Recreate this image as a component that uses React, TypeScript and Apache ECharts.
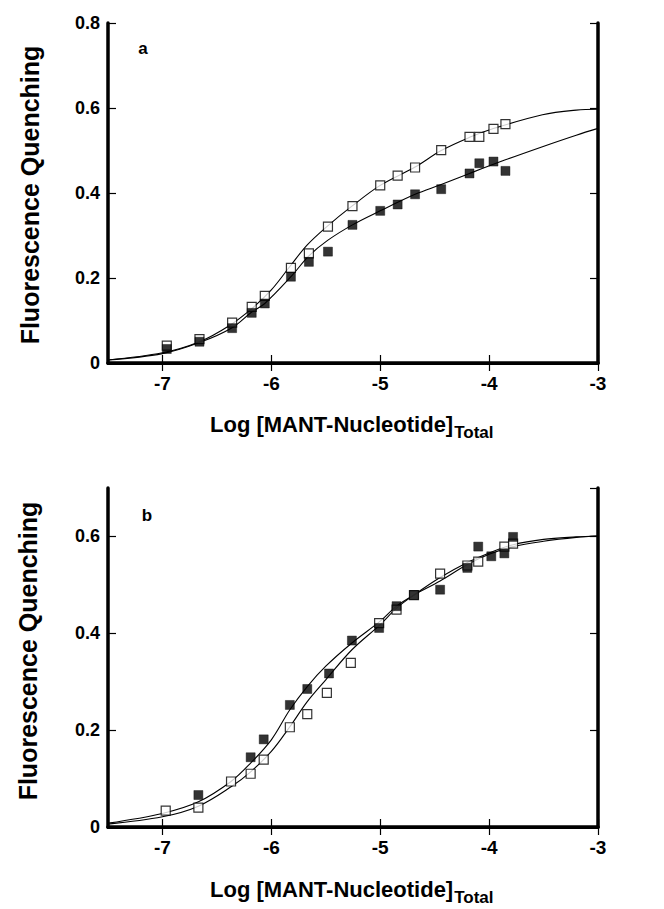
import React, { useEffect, useRef } from "react";
import * as echarts from "echarts";

// Panel a: measured points
const xA = [-6.96, -6.66, -6.36, -6.18, -6.06, -5.82, -5.655, -5.48, -5.255, -5.0, -4.84, -4.68, -4.44, -4.18, -4.09, -3.96, -3.85];
const yAOpen = [0.041, 0.056, 0.095, 0.132, 0.158, 0.224, 0.258, 0.321, 0.369, 0.418, 0.441, 0.46, 0.501, 0.532, 0.532, 0.551, 0.562];
const yAFilled = [0.033, 0.05, 0.082, 0.118, 0.14, 0.203, 0.238, 0.262, 0.325, 0.358, 0.373, 0.397, 0.409, 0.446, 0.47, 0.474, 0.452];

// Panel a: fitted curves
const xAOpenCurve = [-7.5, -7.0, -6.66, -6.38, -6.18, -6.0, -5.83, -5.67, -5.49, -5.26, -5.0, -4.68, -4.44, -4.18, -3.98, -3.51, -3.2, -3.0];
const yAOpenCurve = [0.007, 0.024, 0.05, 0.089, 0.128, 0.172, 0.227, 0.278, 0.321, 0.369, 0.418, 0.461, 0.5, 0.531, 0.55, 0.584, 0.595, 0.597];
const xAFilledCurve = [-7.5, -7.0, -6.66, -6.36, -6.18, -6.06, -5.82, -5.655, -5.48, -5.255, -5.0, -4.68, -4.44, -4.18, -3.85, -3.51, -3.2, -3.0];
const yAFilledCurve = [0.007, 0.022, 0.048, 0.083, 0.12, 0.14, 0.203, 0.252, 0.289, 0.325, 0.358, 0.397, 0.42, 0.446, 0.478, 0.509, 0.536, 0.552];

// Panel b: measured points
const xBOpen = [-6.97, -6.67, -6.37, -6.19, -6.07, -5.83, -5.67, -5.49, -5.27, -5.01, -4.85, -4.69, -4.45, -4.2, -4.1, -3.86, -3.78];
const yBOpen = [0.034, 0.04, 0.094, 0.11, 0.139, 0.206, 0.233, 0.277, 0.339, 0.421, 0.449, 0.479, 0.523, 0.54, 0.548, 0.579, 0.585];
const xBFilled = [-6.67, -6.19, -6.07, -5.83, -5.67, -5.47, -5.26, -5.01, -4.85, -4.69, -4.45, -4.2, -4.1, -3.98, -3.86, -3.78];
const yBFilled = [0.066, 0.144, 0.181, 0.252, 0.285, 0.317, 0.385, 0.411, 0.456, 0.479, 0.49, 0.535, 0.579, 0.559, 0.565, 0.599];

// Panel b: fitted curves
const xBCurve = [-7.5, -7.0, -6.67, -6.37, -6.19, -6.0, -5.83, -5.67, -5.5, -5.26, -5.0, -4.85, -4.69, -4.45, -4.2, -4.0, -3.78, -3.5, -3.2, -3.0];
const yBFilledCurve = [0.008, 0.028, 0.052, 0.094, 0.132, 0.18, 0.242, 0.29, 0.332, 0.38, 0.425, 0.456, 0.479, 0.508, 0.542, 0.563, 0.579, 0.59, 0.598, 0.601];
const yBOpenCurve = [0.006, 0.021, 0.043, 0.083, 0.114, 0.156, 0.207, 0.259, 0.304, 0.366, 0.418, 0.452, 0.479, 0.515, 0.546, 0.566, 0.583, 0.594, 0.599, 0.601];

const xTicks = [-7, -6, -5, -4, -3];
const xTickLabels = ["-7", "-6", "-5", "-4", "-3"];
const yLabel = "Fluorescence Quenching";
const xLabelMain = "Log [MANT-Nucleotide]";
const xLabelSub = "Total";

const FONT = "'Liberation Sans', Arial, Helvetica, sans-serif";

const zip = (xs: number[], ys: number[]) => xs.map((x, i) => [x, ys[i]]);

function measure(text: string, font: string): number {
  const c = document.createElement("canvas");
  const ctx = c.getContext("2d");
  if (!ctx) return text.length * 12;
  ctx.font = font;
  return ctx.measureText(text).width;
}

export default function App() {
  const ref = useRef<HTMLDivElement>(null);
  useEffect(() => {
    if (!ref.current) return;
    const chart = echarts.init(ref.current, undefined, { renderer: "svg" });

    const grids = [
      { left: 108, top: 23, width: 490, height: 340 },
      { left: 108, top: 488, width: 490, height: 339 },
    ];
    const yMax = [0.8, 0.7];

    const xAxes: any[] = [];
    const yAxes: any[] = [];
    grids.forEach((_, gi) => {
      const line = { show: true, lineStyle: { color: "#000", width: 3.5 } };
      xAxes.push({
        type: "value",
        gridIndex: gi,
        position: "bottom",
        min: -7.5,
        max: -3,
        axisLine: line,
        axisTick: { show: true, inside: true, length: 8, customValues: xTicks, lineStyle: { color: "#000", width: 1.2 } },
        axisLabel: {
          show: true,
          customValues: xTicks,
          margin: 11,
          fontFamily: FONT,
          fontWeight: "bold",
          fontSize: 19,
          color: "#000",
          formatter: (v: number) => xTickLabels[xTicks.indexOf(Math.round(v))] ?? String(v),
        },
        splitLine: { show: false },
      });
      xAxes.push({
        type: "value",
        gridIndex: gi,
        position: "top",
        min: -7.5,
        max: -3,
        axisLine: { show: true, lineStyle: { color: "#000", width: 3 } },
        axisTick: { show: true, inside: true, length: 8, customValues: xTicks, lineStyle: { color: "#000", width: 1.2 } },
        axisLabel: { show: false },
        splitLine: { show: false },
      });
      yAxes.push({
        type: "value",
        gridIndex: gi,
        position: "left",
        min: 0,
        max: yMax[gi],
        interval: 0.2,
        axisLine: line,
        axisTick: { show: true, inside: true, length: 8, lineStyle: { color: "#000", width: 1.2 } },
        axisLabel: {
          show: true,
          margin: 8,
          showMaxLabel: gi === 0,
          fontFamily: FONT,
          fontWeight: "bold",
          fontSize: 18,
          color: "#000",
          formatter: (v: number) => (Math.abs(v) < 1e-9 ? "0" : v.toFixed(1)),
        },
        splitLine: { show: false },
      });
      yAxes.push({
        type: "value",
        gridIndex: gi,
        position: "right",
        min: 0,
        max: yMax[gi],
        interval: 0.2,
        axisLine: line,
        axisTick: { show: true, inside: true, length: 8, lineStyle: { color: "#000", width: 1.2 } },
        axisLabel: { show: false },
        splitLine: { show: false },
      });
    });

    const curve = (data: number[][], gi: number) => ({
      type: "line",
      xAxisIndex: gi * 2,
      yAxisIndex: gi * 2,
      data,
      smooth: 0.35,
      showSymbol: false,
      symbol: "none",
      lineStyle: { color: "#000", width: 1.1 },
      z: 2,
    });
    const scatter = (data: number[][], gi: number, filled: boolean) => ({
      type: "scatter",
      xAxisIndex: gi * 2,
      yAxisIndex: gi * 2,
      data,
      symbol: "rect",
      symbolSize: 9,
      itemStyle: filled
        ? { color: "#000", borderColor: "#000", borderWidth: 0.5 }
        : { color: "#fff", borderColor: "#000", borderWidth: 1.2 },
      z: 3,
    });

    const mainFont = `bold 22px ${FONT}`;
    const mainW = measure(xLabelMain, mainFont);
    const labelX = 210;

    const graphics: any[] = [];
    const yCenters = [195, 651];
    const yLabelX = [30, 28];
    const xLabelCenter = [424, 889];
    const panelLetters = ["a", "b"];
    const letterPos = [
      [143, 48],
      [147, 515],
    ];
    [0, 1].forEach((gi) => {
      graphics.push({
        type: "text",
        x: yLabelX[gi],
        y: yCenters[gi],
        rotation: Math.PI / 2,
        style: {
          text: yLabel,
          fontFamily: FONT,
          fontWeight: "bold",
          fontSize: 25,
          fill: "#000",
          align: "center",
          verticalAlign: "middle",
        },
      });
      graphics.push({
        type: "text",
        x: labelX,
        y: xLabelCenter[gi],
        style: {
          text: xLabelMain,
          fontFamily: FONT,
          fontWeight: "bold",
          fontSize: 22,
          fill: "#000",
          align: "left",
          verticalAlign: "middle",
        },
      });
      graphics.push({
        type: "text",
        x: labelX + mainW + 1,
        y: xLabelCenter[gi] + 8.5,
        style: {
          text: xLabelSub,
          fontFamily: FONT,
          fontWeight: "bold",
          fontSize: 17,
          fill: "#000",
          align: "left",
          verticalAlign: "middle",
        },
      });
      graphics.push({
        type: "text",
        x: letterPos[gi][0],
        y: letterPos[gi][1],
        style: {
          text: panelLetters[gi],
          fontFamily: FONT,
          fontWeight: "bold",
          fontSize: 17,
          fill: "#000",
          align: "center",
          verticalAlign: "middle",
        },
      });
    });

    chart.setOption({
      animation: false,
      backgroundColor: "#fff",
      grid: grids,
      xAxis: xAxes,
      yAxis: yAxes,
      series: [
        curve(zip(xAOpenCurve, yAOpenCurve), 0),
        curve(zip(xAFilledCurve, yAFilledCurve), 0),
        scatter(zip(xA, yAOpen), 0, false),
        scatter(zip(xA, yAFilled), 0, true),
        curve(zip(xBCurve, yBFilledCurve), 1),
        curve(zip(xBCurve, yBOpenCurve), 1),
        scatter(zip(xBOpen, yBOpen), 1, false),
        scatter(zip(xBFilled, yBFilled), 1, true),
      ],
      graphic: graphics,
    });

    return () => chart.dispose();
  }, []);

  return (
    <div
      ref={ref}
      style={{ position: "fixed", left: 0, top: 0, width: 664, height: 909, background: "#fff" }}
    />
  );
}
